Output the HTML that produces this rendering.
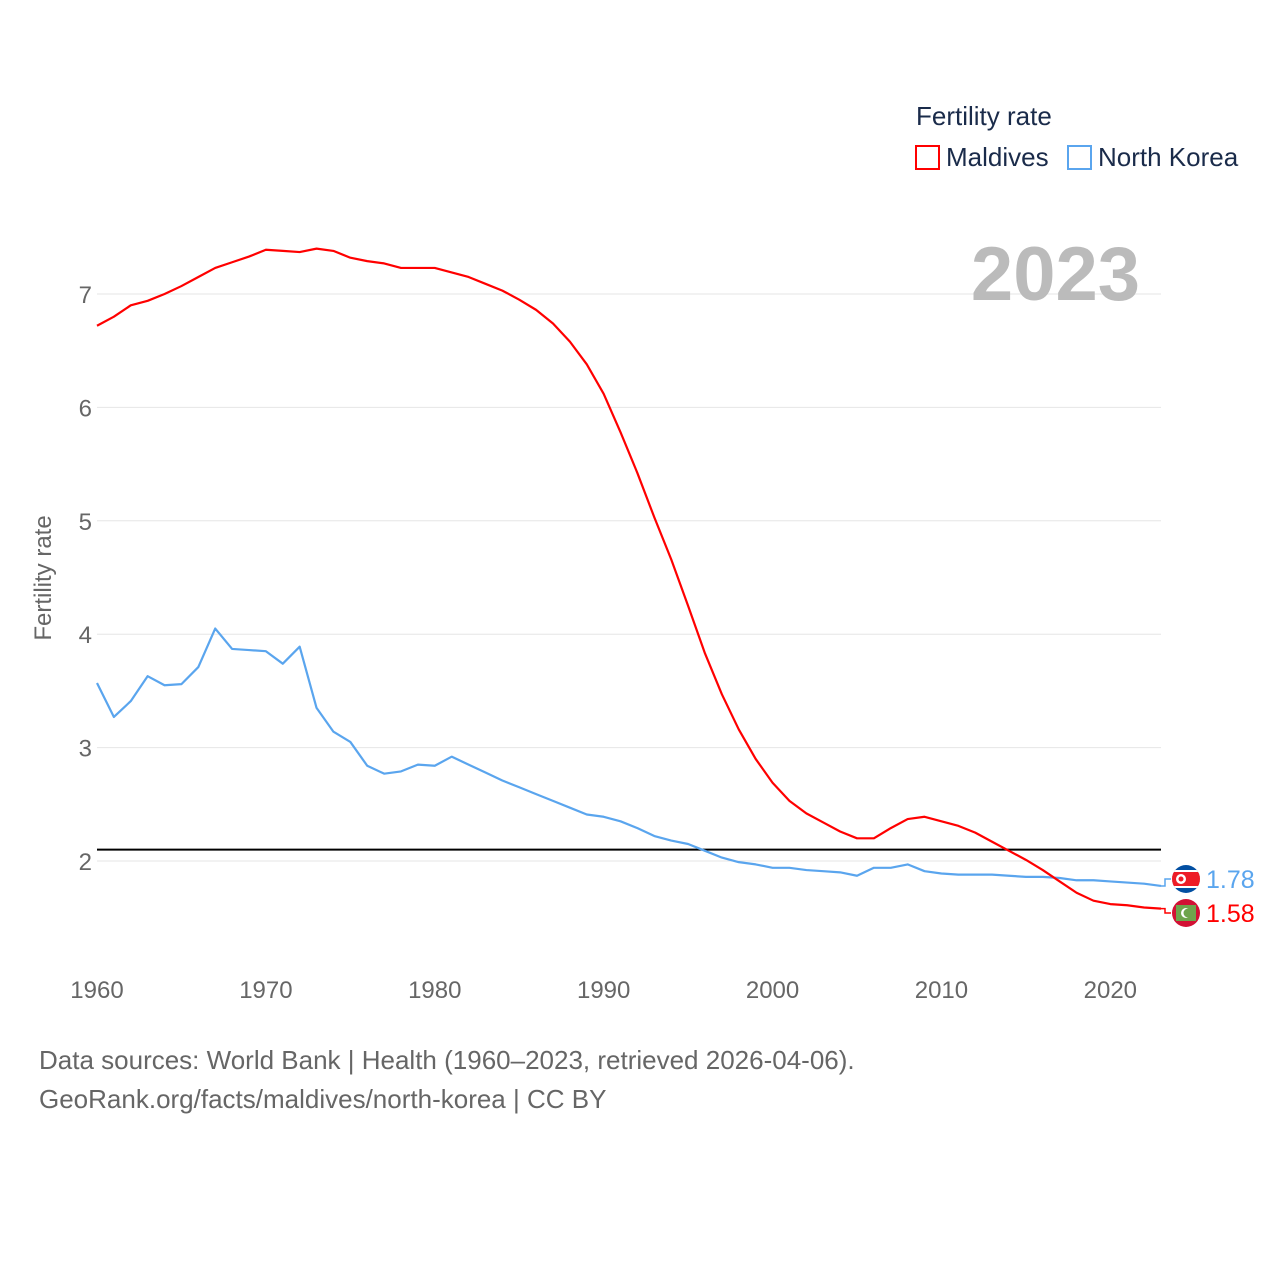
<!DOCTYPE html>
<html><head><meta charset="utf-8"><style>
body{margin:0;background:#fff;}
svg text{font-family:"Liberation Sans",sans-serif;}
</style></head><body>
<svg id="chart" width="1280" height="1280" xmlns="http://www.w3.org/2000/svg">
<defs>
<clipPath id="c1"><circle cx="1186" cy="879" r="14"/></clipPath>
<clipPath id="c2"><circle cx="1186" cy="913" r="14"/></clipPath>
</defs>
<g id="grid"></g>
<g id="lines"></g>
<text transform="translate(51,578) rotate(-90)" text-anchor="middle" font-size="24" fill="#666">Fertility rate</text>
<text x="916" y="125" font-size="26" fill="#1a2b4a">Fertility rate</text>
<rect x="916" y="146" width="23" height="23" fill="none" stroke="#f00" stroke-width="2"/>
<text x="946" y="166" font-size="26" fill="#1a2b4a">Maldives</text>
<rect x="1068" y="146" width="23" height="23" fill="none" stroke="#5aa5ee" stroke-width="2"/>
<text x="1098" y="166" font-size="26" fill="#1a2b4a">North Korea</text>
<text x="1140" y="300" text-anchor="end" font-size="76" font-weight="bold" fill="#bbb">2023</text>
<text x="39" y="1069" font-size="26" fill="#666">Data sources: World Bank | Health (1960–2023, retrieved 2026-04-06).</text>
<text x="39" y="1108" font-size="26" fill="#666">GeoRank.org/facts/maldives/north-korea | CC BY</text>
</svg>
<script>
const years=[];for(let y=1960;y<=2023;y++)years.push(y);
const maldives=[6.72,6.80,6.90,6.94,7.00,7.07,7.15,7.23,7.28,7.33,7.39,7.38,7.37,7.40,7.38,7.32,7.29,7.27,7.23,7.23,7.23,7.19,7.15,7.09,7.03,6.95,6.86,6.74,6.58,6.38,6.12,5.78,5.42,5.03,4.66,4.25,3.83,3.47,3.16,2.90,2.69,2.53,2.42,2.34,2.26,2.20,2.20,2.29,2.37,2.39,2.35,2.31,2.25,2.17,2.09,2.01,1.92,1.82,1.72,1.65,1.62,1.61,1.59,1.58];
const northKorea=[3.57,3.27,3.41,3.63,3.55,3.56,3.71,4.05,3.87,3.86,3.85,3.74,3.89,3.35,3.14,3.05,2.84,2.77,2.79,2.85,2.84,2.92,2.85,2.78,2.71,2.65,2.59,2.53,2.47,2.41,2.39,2.35,2.29,2.22,2.18,2.15,2.09,2.03,1.99,1.97,1.94,1.94,1.92,1.91,1.90,1.87,1.94,1.94,1.97,1.91,1.89,1.88,1.88,1.88,1.87,1.86,1.86,1.85,1.83,1.83,1.82,1.81,1.80,1.78];
const yTicks=[2,3,4,5,6,7];
const xTicks=[1960,1970,1980,1990,2000,2010,2020];
const replacement=[2.1];
const NS="http://www.w3.org/2000/svg";
const X=v=>97+(v-1960)*(1161-97)/63;
const Y=v=>861-(v-2)*113.4;
function mk(tag,attrs,parent){const e=document.createElementNS(NS,tag);for(const k in attrs)e.setAttribute(k,attrs[k]);parent.appendChild(e);return e;}
const grid=document.getElementById('grid'),lines=document.getElementById('lines');
yTicks.forEach(t=>{
 const l=mk('line',{x1:97,x2:1161,y1:Y(t),y2:Y(t),stroke:'#e6e6e6','stroke-width':1},grid);
 
 
 const tx=mk('text',{x:92,y:Y(t)+9,'text-anchor':'end','font-size':24,fill:'#666'},grid);tx.textContent=t;
 
 
});
xTicks.forEach(t=>{
 const tx=mk('text',{x:X(t),y:998,'text-anchor':'middle','font-size':24,fill:'#666'},grid);tx.textContent=t;
 
 
});
const rl=mk('line',{x1:97,x2:1161,y1:Y(replacement[0]),y2:Y(replacement[0]),stroke:'#000','stroke-width':2},lines);


function series(vals,color,name){
 const p=mk('polyline',{points:vals.map((v,i)=>X(years[i])+','+Y(v)).join(' '),fill:'none',stroke:color,'stroke-width':2.2,'stroke-linejoin':'round'},lines);
 
 
}
series(northKorea,'#5aa5ee','north-korea');
series(maldives,'#f00','maldives');
function endLabel(v,color,name,ly,clip,kind){
 const lx=X(2023);
 const c=mk('polyline',{points:`${lx},${Y(v)} ${lx+4},${Y(v)} ${lx+4},${ly} ${lx+10},${ly}`,fill:'none',stroke:color,'stroke-width':1.5},lines);
 
 
 const g=mk('g',{'clip-path':'url(#'+clip+')'},lines);
 
 
 if(kind==='nk'){
  mk('rect',{x:1172,y:ly-14,width:28,height:28,fill:'#024fa2'},g);
  mk('rect',{x:1172,y:ly-9,width:28,height:18,fill:'#fff'},g);
  mk('rect',{x:1172,y:ly-7,width:28,height:14,fill:'#ed1c27'},g);
  mk('circle',{cx:1181,cy:ly,r:5,fill:'#fff'},g);
  mk('circle',{cx:1181,cy:ly,r:2.5,fill:'#ed1c27'},g);
 } else {
  mk('rect',{x:1172,y:ly-14,width:28,height:28,fill:'#d21034'},g);
  mk('rect',{x:1176,y:ly-8,width:20,height:16,fill:'#6ea44c'},g);
  mk('circle',{cx:1186,cy:ly,r:5,fill:'#fff'},g);
  mk('circle',{cx:1188,cy:ly,r:4.5,fill:'#6ea44c'},g);
 }
 const t=mk('text',{x:1206,y:ly+9,'font-size':25,fill:color},lines);t.textContent=v.toFixed(2);
 
 
}
endLabel(northKorea[63],'#5aa5ee','north-korea',879,'c1','nk');
endLabel(maldives[63],'#f00','maldives',913,'c2','mv');
</script>
</body></html>
